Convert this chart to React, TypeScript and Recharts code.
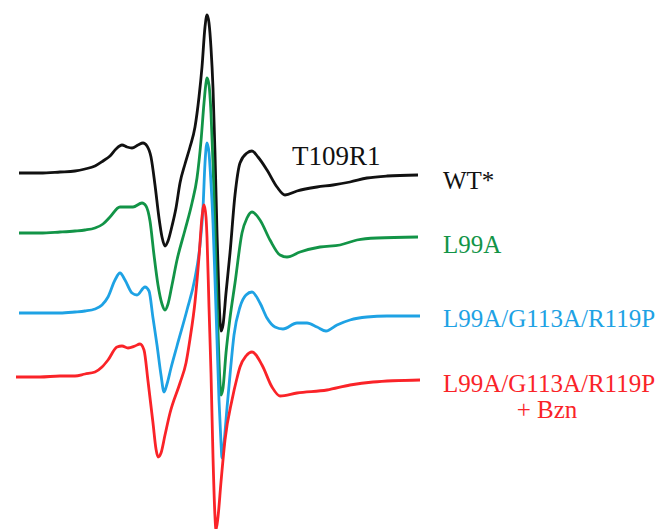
import { LineChart, Line, XAxis, YAxis } from 'recharts'

// EPR spectra of T109R1 variants.
// field: arbitrary field units, amp: derivative amplitude (arb. units, up = positive)
type Pt = [number, number]

const wtStar: Pt[] = [
  [19, 0], [40, 0], [60, 1], [75, 2], [85, 4], [95, 7], [103, 12], [110, 17], [116, 24],
  [122, 28], [127, 26], [132, 25], [138, 28], [143, 30], [147, 27], [151, 16],
  [155, -12], [159, -45], [162, -64], [165, -73], [168, -68], [172, -53],
  [176, -35], [180, -10], [185, 9], [190, 26], [195, 46], [199, 76], [202, 106],
  [205, 146], [207, 158], [209, 150], [211, 125], [213, 85], [215, 20],
  [217, -60], [219, -125], [221, -158], [223, -152], [226, -120], [230, -80],
  [235, -22], [240, 10], [247, 20], [252, 22], [258, 16], [267, 3], [277, -14],
  [285, -22], [297, -18], [317, -14], [333, -12], [350, -9], [367, -5],
  [387, -3], [418, -2],
]

const l99a: Pt[] = [
  [19, 0], [40, 0], [60, 1], [75, 2], [85, 3], [95, 5], [103, 9], [110, 16], [120, 26],
  [127, 26], [133, 26], [142, 30], [146, 27], [150, 12], [154, -22], [158, -52],
  [162, -71], [165, -77], [168, -71], [172, -52], [177, -27], [185, 3],
  [192, 30], [197, 55], [201, 92], [204, 130], [206, 150], [207, 155],
  [209, 148], [211, 120], [213, 70], [215, 3], [217, -67], [219, -127],
  [221, -162], [223, -155], [226, -120], [230, -85], [235, -50], [242, 0],
  [247, 15], [252, 21], [260, 13], [270, -7], [280, -22], [287, -24],
  [300, -19], [320, -14], [340, -12], [357, -7], [377, -5], [418, -4],
]

const tripleMut: Pt[] = [
  [19, 0], [40, 0], [60, 0], [75, 1], [85, 2], [95, 4], [102, 8], [108, 16], [115, 33],
  [120, 40], [125, 33], [132, 20], [137, 18], [145, 26], [149, 22], [153, -5],
  [157, -32], [161, -62], [164, -79], [167, -71], [171, -55], [177, -33],
  [187, 3], [195, 35], [200, 68], [203, 105], [205, 150], [207, 170],
  [209, 160], [211, 130], [213, 90], [215, 33], [217, -27], [219, -87],
  [221, -130], [222, -145], [224, -130], [227, -95], [230, -62], [234, -22],
  [240, 6], [246, 18], [252, 21], [260, 10], [267, -5], [275, -14], [283, -16],
  [297, -10], [307, -10], [317, -14], [326, -18], [337, -12], [350, -7],
  [367, -4], [387, -3], [420, -3],
]

const tripleMutBzn: Pt[] = [
  [16, 0], [40, 0], [60, 1], [75, 1], [85, 3], [95, 5], [102, 10], [108, 17], [117, 30],
  [122, 31], [128, 29], [135, 31], [140, 33], [144, 27], [148, -4], [153, -46],
  [156, -72], [158, -80], [161, -76], [165, -58], [170, -36], [180, -6],
  [186, 14], [190, 38], [195, 75], [199, 120], [202, 160], [204, 172],
  [206, 160], [207, 140], [209, 70], [211, 4], [213, -80], [215, -140],
  [216, -153], [218, -140], [221, -105], [225, -63], [232, -23], [237, -1],
  [240, 10], [246, 21], [252, 25], [262, 12], [272, -10], [280, -19],
  [297, -16], [327, -13], [350, -8], [373, -5], [420, -3],
]

const labels = ['WT*', 'L99A', 'L99A/G113A/R119P', 'L99A/G113A/R119P']
const colors = ['#111111', '#129447', '#1ea2e4', '#fa2328']
const traceOffsets = [173, 233, 313, 377]
const traces = [wtStar, l99a, tripleMut, tripleMutBzn]

const series = traces.map((pts, i) =>
  pts.map(([field, amp]) => ({ field, value: -traceOffsets[i] + amp }))
)

const serif = "'Times New Roman', Tinos, 'Liberation Serif', 'Noto Serif', 'DejaVu Serif', serif"

export default function App() {
  return (
    <div style={{ position: 'absolute', left: 0, top: 0, width: 668, height: 529, background: '#fff' }}>
      <LineChart width={668} height={529} margin={{ top: 0, right: 0, bottom: 0, left: 0 }}>
        <XAxis type="number" dataKey="field" domain={[0, 668]} hide allowDataOverflow />
        <YAxis type="number" dataKey="value" domain={[-529, 0]} hide allowDataOverflow />
        {series.map((d, i) => (
          <Line
            key={i}
            data={d}
            dataKey="value"
            name={labels[i]}
            type="monotone"
            stroke={colors[i]}
            strokeWidth={2.8}
            dot={false}
            activeDot={false}
            isAnimationActive={false}
          />
        ))}
      </LineChart>
      <svg
        width={668}
        height={529}
        fontFamily={serif}
        style={{ position: 'absolute', left: 0, top: 0, pointerEvents: 'none' }}
      >
        <text x={292} y={165} fontSize={27} fill="#111">T109R1</text>
        <text x={443} y={189} fontSize={25} fill={colors[0]}>{labels[0]}</text>
        <text x={443} y={253} fontSize={25} fill={colors[1]}>{labels[1]}</text>
        <text x={443} y={327} fontSize={25} fill={colors[2]}>{labels[2]}</text>
        <text x={443} y={392} fontSize={25} fill={colors[3]}>{labels[3]}</text>
        <text x={547} y={418} fontSize={25} fill={colors[3]} textAnchor="middle">+ Bzn</text>
      </svg>
    </div>
  )
}
